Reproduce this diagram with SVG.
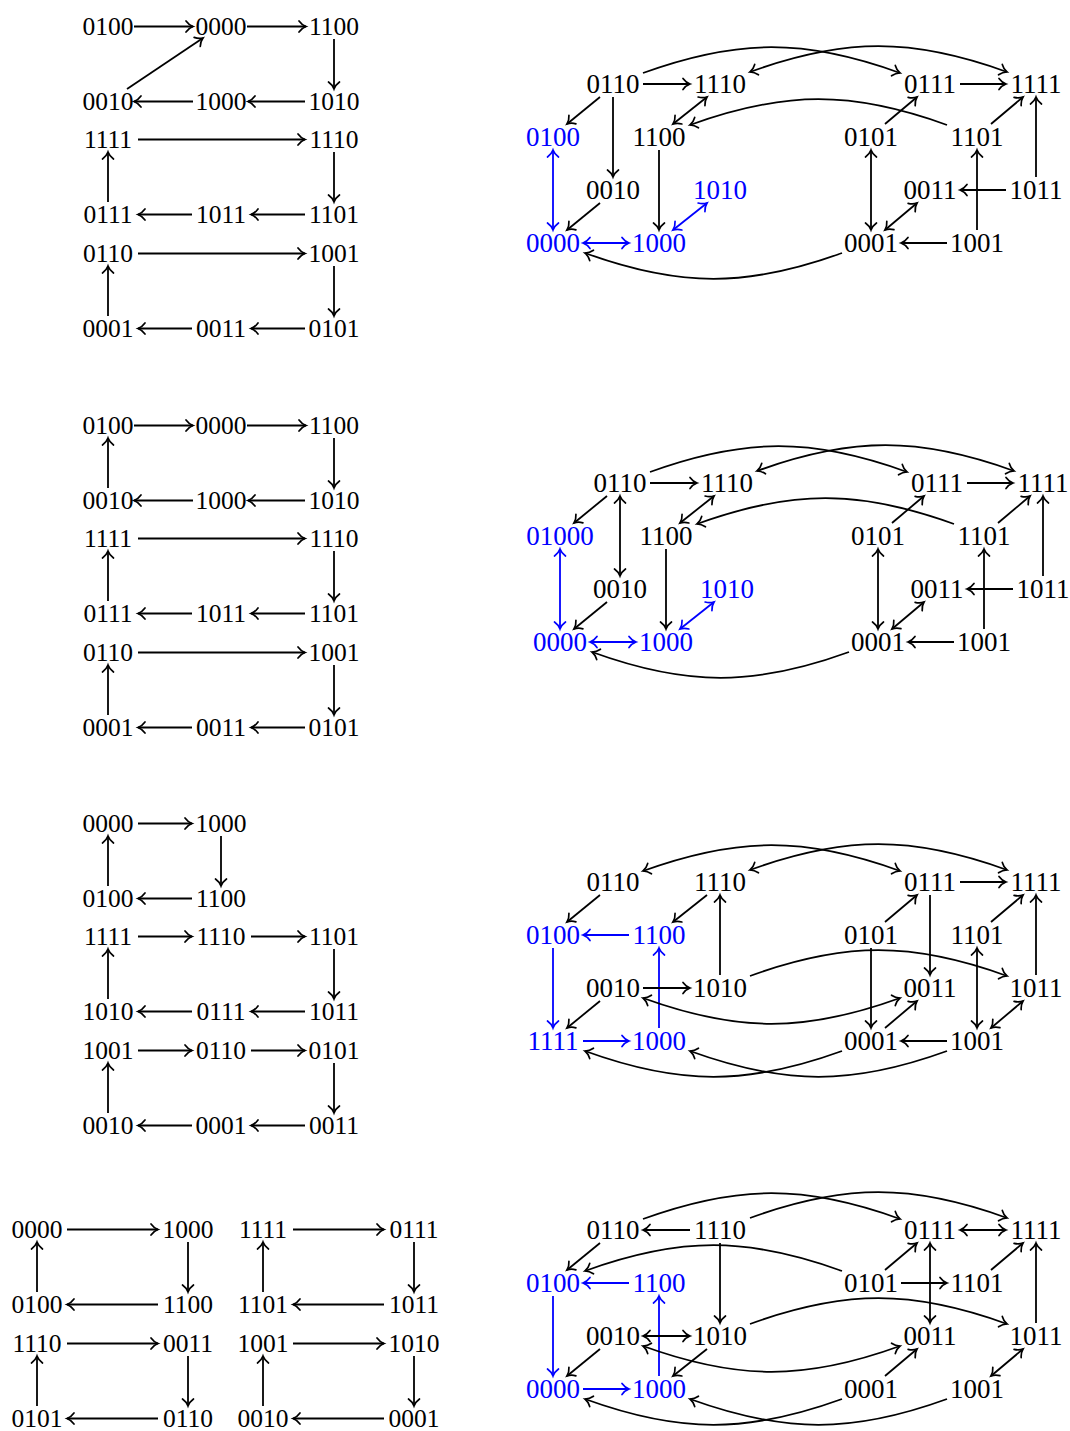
<svg xmlns="http://www.w3.org/2000/svg" width="1070" height="1431" viewBox="0 0 1070 1431">
<defs>
<style>
.t{font-family:"Liberation Serif","DejaVu Serif",serif;font-size:25.5px;text-anchor:middle;fill:#000}
.r{font-size:27px}
.b{fill:#0000ff}
.e{fill:none;stroke:#000;stroke-width:1.8;marker-end:url(#h)}
.d{marker-start:url(#h)}
.eb{stroke:#0000ff;marker-end:url(#hb)}
.db{marker-start:url(#hb)}
</style>
<marker id="h" viewBox="-9 -7 10 14" refX="0" refY="0" markerWidth="10" markerHeight="14" markerUnits="userSpaceOnUse" orient="auto-start-reverse" overflow="visible">
<path d="M-7,-5.5 C-5,-2.7 -2.2,-0.8 0,0 C-2.2,0.8 -5,2.7 -7,5.5" fill="none" stroke="#000" stroke-width="1.7" stroke-linecap="round"/>
</marker>
<marker id="hb" viewBox="-9 -7 10 14" refX="0" refY="0" markerWidth="10" markerHeight="14" markerUnits="userSpaceOnUse" orient="auto-start-reverse" overflow="visible">
<path d="M-7,-5.5 C-5,-2.7 -2.2,-0.8 0,0 C-2.2,0.8 -5,2.7 -7,5.5" fill="none" stroke="#0000ff" stroke-width="1.7" stroke-linecap="round"/>
</marker>
</defs>
<rect width="1070" height="1431" fill="#fff"/>

<!-- ===== Panel 1 left ===== -->
<g id="p1L-nodes" class="t">
<g id="p1L-0100"><text x="108" y="35">0100</text></g>
<g id="p1L-0000"><text x="221" y="35">0000</text></g>
<g id="p1L-1100"><text x="334" y="35">1100</text></g>
<g id="p1L-0010"><text x="108" y="110">0010</text></g>
<g id="p1L-1000"><text x="221" y="110">1000</text></g>
<g id="p1L-1010"><text x="334" y="110">1010</text></g>
<g id="p1L-1111"><text x="108" y="148">1111</text></g>
<g id="p1L-1110"><text x="334" y="148">1110</text></g>
<g id="p1L-0111"><text x="108" y="223">0111</text></g>
<g id="p1L-1011"><text x="221" y="223">1011</text></g>
<g id="p1L-1101"><text x="334" y="223">1101</text></g>
<g id="p1L-0110"><text x="108" y="262">0110</text></g>
<g id="p1L-1001"><text x="334" y="262">1001</text></g>
<g id="p1L-0001"><text x="108" y="337">0001</text></g>
<g id="p1L-0011"><text x="221" y="337">0011</text></g>
<g id="p1L-0101"><text x="334" y="337">0101</text></g>
</g>
<g id="p1L-edges">
<path class="e" d="M134,26.5 L193,26.5"/>
<path class="e" d="M247,26.5 L306,26.5"/>
<path class="e" d="M334,39 L334,89"/>
<path class="e" d="M305,101.5 L248,101.5"/>
<path class="e" d="M193,101.5 L134,101.5"/>
<path class="e" d="M127,89 L203,38"/>
<path class="e" d="M138,139.5 L305,139.5"/>
<path class="e" d="M334,152 L334,202"/>
<path class="e" d="M305,214.5 L251,214.5"/>
<path class="e" d="M192,214.5 L138,214.5"/>
<path class="e" d="M108,202 L108,152"/>
<path class="e" d="M138,253.5 L305,253.5"/>
<path class="e" d="M334,266 L334,316"/>
<path class="e" d="M305,328.5 L251,328.5"/>
<path class="e" d="M192,328.5 L138,328.5"/>
<path class="e" d="M108,316 L108,266"/>
</g>

<!-- ===== Panel 2 left ===== -->
<g id="p2L-nodes" class="t">
<g id="p2L-0100"><text x="108" y="434">0100</text></g>
<g id="p2L-0000"><text x="221" y="434">0000</text></g>
<g id="p2L-1100"><text x="334" y="434">1100</text></g>
<g id="p2L-0010"><text x="108" y="509">0010</text></g>
<g id="p2L-1000"><text x="221" y="509">1000</text></g>
<g id="p2L-1010"><text x="334" y="509">1010</text></g>
<g id="p2L-1111"><text x="108" y="547">1111</text></g>
<g id="p2L-1110"><text x="334" y="547">1110</text></g>
<g id="p2L-0111"><text x="108" y="622">0111</text></g>
<g id="p2L-1011"><text x="221" y="622">1011</text></g>
<g id="p2L-1101"><text x="334" y="622">1101</text></g>
<g id="p2L-0110"><text x="108" y="661">0110</text></g>
<g id="p2L-1001"><text x="334" y="661">1001</text></g>
<g id="p2L-0001"><text x="108" y="736">0001</text></g>
<g id="p2L-0011"><text x="221" y="736">0011</text></g>
<g id="p2L-0101"><text x="334" y="736">0101</text></g>
</g>
<g id="p2L-edges">
<path class="e" d="M134,425.5 L193,425.5"/>
<path class="e" d="M247,425.5 L306,425.5"/>
<path class="e" d="M334,438 L334,488"/>
<path class="e" d="M305,500.5 L248,500.5"/>
<path class="e" d="M193,500.5 L134,500.5"/>
<path class="e" d="M108,488 L108,438"/>
<path class="e" d="M138,538.5 L305,538.5"/>
<path class="e" d="M334,551 L334,601"/>
<path class="e" d="M305,613.5 L251,613.5"/>
<path class="e" d="M192,613.5 L138,613.5"/>
<path class="e" d="M108,601 L108,551"/>
<path class="e" d="M138,652.5 L305,652.5"/>
<path class="e" d="M334,665 L334,715"/>
<path class="e" d="M305,727.5 L251,727.5"/>
<path class="e" d="M192,727.5 L138,727.5"/>
<path class="e" d="M108,715 L108,665"/>
</g>

<!-- ===== Panel 3 left ===== -->
<g id="p3L-nodes" class="t">
<g id="p3L-0000"><text x="108" y="832">0000</text></g>
<g id="p3L-1000"><text x="221" y="832">1000</text></g>
<g id="p3L-0100"><text x="108" y="907">0100</text></g>
<g id="p3L-1100"><text x="221" y="907">1100</text></g>
<g id="p3L-1111"><text x="108" y="945">1111</text></g>
<g id="p3L-1110"><text x="221" y="945">1110</text></g>
<g id="p3L-1101"><text x="334" y="945">1101</text></g>
<g id="p3L-1010"><text x="108" y="1020">1010</text></g>
<g id="p3L-0111"><text x="221" y="1020">0111</text></g>
<g id="p3L-1011"><text x="334" y="1020">1011</text></g>
<g id="p3L-1001"><text x="108" y="1059">1001</text></g>
<g id="p3L-0110"><text x="221" y="1059">0110</text></g>
<g id="p3L-0101"><text x="334" y="1059">0101</text></g>
<g id="p3L-0010"><text x="108" y="1134">0010</text></g>
<g id="p3L-0001"><text x="221" y="1134">0001</text></g>
<g id="p3L-0011"><text x="334" y="1134">0011</text></g>
</g>
<g id="p3L-edges">
<path class="e" d="M138,823.5 L192,823.5"/>
<path class="e" d="M221,836 L221,886"/>
<path class="e" d="M192,898.5 L138,898.5"/>
<path class="e" d="M108,886 L108,836"/>
<path class="e" d="M138,936.5 L192,936.5"/>
<path class="e" d="M251,936.5 L305,936.5"/>
<path class="e" d="M334,949 L334,999"/>
<path class="e" d="M305,1011.5 L251,1011.5"/>
<path class="e" d="M192,1011.5 L138,1011.5"/>
<path class="e" d="M108,999 L108,949"/>
<path class="e" d="M138,1050.5 L192,1050.5"/>
<path class="e" d="M251,1050.5 L305,1050.5"/>
<path class="e" d="M334,1063 L334,1113"/>
<path class="e" d="M305,1125.5 L251,1125.5"/>
<path class="e" d="M192,1125.5 L138,1125.5"/>
<path class="e" d="M108,1113 L108,1063"/>
</g>

<!-- ===== Panel 4 left ===== -->
<g id="p4L-nodes" class="t">
<g id="p4L-0000"><text x="37" y="1238">0000</text></g>
<g id="p4L-1000"><text x="188" y="1238">1000</text></g>
<g id="p4L-1111"><text x="263" y="1238">1111</text></g>
<g id="p4L-0111"><text x="414" y="1238">0111</text></g>
<g id="p4L-0100"><text x="37" y="1313">0100</text></g>
<g id="p4L-1100"><text x="188" y="1313">1100</text></g>
<g id="p4L-1101"><text x="263" y="1313">1101</text></g>
<g id="p4L-1011"><text x="414" y="1313">1011</text></g>
<g id="p4L-1110"><text x="37" y="1352">1110</text></g>
<g id="p4L-0011"><text x="188" y="1352">0011</text></g>
<g id="p4L-1001"><text x="263" y="1352">1001</text></g>
<g id="p4L-1010"><text x="414" y="1352">1010</text></g>
<g id="p4L-0101"><text x="37" y="1427">0101</text></g>
<g id="p4L-0110"><text x="188" y="1427">0110</text></g>
<g id="p4L-0010"><text x="263" y="1427">0010</text></g>
<g id="p4L-0001"><text x="414" y="1427">0001</text></g>
</g>
<g id="p4L-edges">
<path class="e" d="M67,1229.5 L158,1229.5"/>
<path class="e" d="M188,1242 L188,1292"/>
<path class="e" d="M158,1304.5 L67,1304.5"/>
<path class="e" d="M37,1292 L37,1242"/>
<path class="e" d="M293,1229.5 L384,1229.5"/>
<path class="e" d="M414,1242 L414,1292"/>
<path class="e" d="M384,1304.5 L293,1304.5"/>
<path class="e" d="M263,1292 L263,1242"/>
<path class="e" d="M67,1343.5 L158,1343.5"/>
<path class="e" d="M188,1356 L188,1406"/>
<path class="e" d="M158,1418.5 L67,1418.5"/>
<path class="e" d="M37,1406 L37,1356"/>
<path class="e" d="M293,1343.5 L384,1343.5"/>
<path class="e" d="M414,1356 L414,1406"/>
<path class="e" d="M384,1418.5 L293,1418.5"/>
<path class="e" d="M263,1406 L263,1356"/>
</g>

<!-- ===== Panel 1 right ===== -->
<g id="p1R-nodes" class="t r">
<g id="p1R-0110"><text x="613" y="93">0110</text></g>
<g id="p1R-1110"><text x="720" y="93">1110</text></g>
<g id="p1R-0100"><text class="b" x="553" y="146">0100</text></g>
<g id="p1R-1100"><text x="659" y="146">1100</text></g>
<g id="p1R-0010"><text x="613" y="199">0010</text></g>
<g id="p1R-1010"><text class="b" x="720" y="199">1010</text></g>
<g id="p1R-0000"><text class="b" x="553" y="252">0000</text></g>
<g id="p1R-1000"><text class="b" x="659" y="252">1000</text></g>
<g id="p1R-0111"><text x="930" y="93">0111</text></g>
<g id="p1R-1111"><text x="1036" y="93">1111</text></g>
<g id="p1R-0101"><text x="871" y="146">0101</text></g>
<g id="p1R-1101"><text x="977" y="146">1101</text></g>
<g id="p1R-0011"><text x="930" y="199">0011</text></g>
<g id="p1R-1011"><text x="1036" y="199">1011</text></g>
<g id="p1R-0001"><text x="871" y="252">0001</text></g>
<g id="p1R-1001"><text x="977" y="252">1001</text></g>
</g>
<g id="p1R-edges">
<path class="e" d="M643,84 L690,84"/>
<path class="e" d="M600,97 L567,124"/>
<path class="e" d="M613,97 L613,177"/>
<path class="e d" d="M707,97 L673,124"/>
<path class="e" d="M659,150 L659,230"/>
<path class="e eb db" d="M553,150 L553,230"/>
<path class="e" d="M600,203 L567,230"/>
<path class="e eb db" d="M583,243 L629,243"/>
<path class="e eb db" d="M707,203 L673,230"/>
<path class="e" d="M960,84 L1006,84"/>
<path class="e" d="M885,124 L917,97"/>
<path class="e" d="M991,124 L1023,97"/>
<path class="e" d="M1036,177 L1036,97"/>
<path class="e d" d="M871,150 L871,230"/>
<path class="e" d="M977,230 L977,150"/>
<path class="e" d="M1006,190 L960,190"/>
<path class="e d" d="M917,203 L885,230"/>
<path class="e" d="M947,243 L901,243"/>
<path class="e" d="M643,73 C737.6,38.6 805.4,38.6 900,73"/>
<path class="e d" d="M750,72 C844.6,37.6 912.4,37.6 1007,72"/>
<path class="e" d="M947,125 C852.4,90.6 784.6,90.6 690,125"/>
<path class="e" d="M842,253 C747.4,287.4 679.6,287.4 585,253"/>
</g>

<!-- ===== Panel 2 right ===== -->
<g id="p2R-nodes" class="t r">
<g id="p2R-0110"><text x="620" y="492">0110</text></g>
<g id="p2R-1110"><text x="727" y="492">1110</text></g>
<g id="p2R-01000"><text class="b" x="560" y="545">01000</text></g>
<g id="p2R-1100"><text x="666" y="545">1100</text></g>
<g id="p2R-0010"><text x="620" y="598">0010</text></g>
<g id="p2R-1010"><text class="b" x="727" y="598">1010</text></g>
<g id="p2R-0000"><text class="b" x="560" y="651">0000</text></g>
<g id="p2R-1000"><text class="b" x="666" y="651">1000</text></g>
<g id="p2R-0111"><text x="937" y="492">0111</text></g>
<g id="p2R-1111"><text x="1043" y="492">1111</text></g>
<g id="p2R-0101"><text x="878" y="545">0101</text></g>
<g id="p2R-1101"><text x="984" y="545">1101</text></g>
<g id="p2R-0011"><text x="937" y="598">0011</text></g>
<g id="p2R-1011"><text x="1043" y="598">1011</text></g>
<g id="p2R-0001"><text x="878" y="651">0001</text></g>
<g id="p2R-1001"><text x="984" y="651">1001</text></g>
</g>
<g id="p2R-edges">
<path class="e" d="M650,483 L697,483"/>
<path class="e" d="M607,496 L574,523"/>
<path class="e d" d="M620,496 L620,576"/>
<path class="e d" d="M714,496 L680,523"/>
<path class="e" d="M666,549 L666,629"/>
<path class="e eb db" d="M560,549 L560,629"/>
<path class="e" d="M607,602 L574,629"/>
<path class="e eb db" d="M590,642 L636,642"/>
<path class="e eb db" d="M714,602 L680,629"/>
<path class="e" d="M967,483 L1013,483"/>
<path class="e" d="M892,523 L924,496"/>
<path class="e" d="M998,523 L1030,496"/>
<path class="e" d="M1043,576 L1043,496"/>
<path class="e d" d="M878,549 L878,629"/>
<path class="e" d="M984,629 L984,549"/>
<path class="e" d="M1013,589 L967,589"/>
<path class="e d" d="M924,602 L892,629"/>
<path class="e" d="M954,642 L908,642"/>
<path class="e" d="M650,472 C744.6,437.6 812.4,437.6 907,472"/>
<path class="e d" d="M757,471 C851.6,436.6 919.4,436.6 1014,471"/>
<path class="e" d="M954,524 C859.4,489.6 791.6,489.6 697,524"/>
<path class="e" d="M849,652 C754.4,686.4 686.6,686.4 592,652"/>
</g>

<!-- ===== Panel 3 right ===== -->
<g id="p3R-nodes" class="t r">
<g id="p3R-0110"><text x="613" y="891">0110</text></g>
<g id="p3R-1110"><text x="720" y="891">1110</text></g>
<g id="p3R-0100"><text class="b" x="553" y="944">0100</text></g>
<g id="p3R-1100"><text class="b" x="659" y="944">1100</text></g>
<g id="p3R-0010"><text x="613" y="997">0010</text></g>
<g id="p3R-1010"><text x="720" y="997">1010</text></g>
<g id="p3R-1111a"><text class="b" x="553" y="1050">1111</text></g>
<g id="p3R-1000"><text class="b" x="659" y="1050">1000</text></g>
<g id="p3R-0111"><text x="930" y="891">0111</text></g>
<g id="p3R-1111"><text x="1036" y="891">1111</text></g>
<g id="p3R-0101"><text x="871" y="944">0101</text></g>
<g id="p3R-1101"><text x="977" y="944">1101</text></g>
<g id="p3R-0011"><text x="930" y="997">0011</text></g>
<g id="p3R-1011"><text x="1036" y="997">1011</text></g>
<g id="p3R-0001"><text x="871" y="1050">0001</text></g>
<g id="p3R-1001"><text x="977" y="1050">1001</text></g>
</g>
<g id="p3R-edges">
<path class="e" d="M600,895 L567,922"/>
<path class="e" d="M707,895 L673,922"/>
<path class="e eb" d="M629,935 L583,935"/>
<path class="e eb" d="M553,948 L553,1028"/>
<path class="e eb" d="M659,1028 L659,948"/>
<path class="e eb" d="M583,1041 L629,1041"/>
<path class="e" d="M643,988 L690,988"/>
<path class="e" d="M720,975 L720,895"/>
<path class="e" d="M600,1001 L567,1028"/>
<path class="e" d="M960,882 L1006,882"/>
<path class="e" d="M885,922 L917,895"/>
<path class="e" d="M991,922 L1023,895"/>
<path class="e" d="M1036,975 L1036,895"/>
<path class="e" d="M930,895 L930,975"/>
<path class="e" d="M871,948 L871,1028"/>
<path class="e d" d="M977,948 L977,1028"/>
<path class="e" d="M885,1028 L917,1001"/>
<path class="e d" d="M991,1028 L1023,1001"/>
<path class="e" d="M947,1041 L901,1041"/>
<path class="e d" d="M643,871 C737.6,836.6 805.4,836.6 900,871"/>
<path class="e d" d="M750,870 C844.6,835.6 912.4,835.6 1007,870"/>
<path class="e" d="M750,976 C844.6,941.6 912.4,941.6 1007,976"/>
<path class="e d" d="M643,998 C737.6,1032.4 805.4,1032.4 900,998"/>
<path class="e" d="M842,1051 C747.4,1085.4 679.6,1085.4 585,1051"/>
<path class="e" d="M947,1051 C852.4,1085.4 784.6,1085.4 690,1051"/>
</g>

<!-- ===== Panel 4 right ===== -->
<g id="p4R-nodes" class="t r">
<g id="p4R-0110"><text x="613" y="1239">0110</text></g>
<g id="p4R-1110"><text x="720" y="1239">1110</text></g>
<g id="p4R-0100"><text class="b" x="553" y="1292">0100</text></g>
<g id="p4R-1100"><text class="b" x="659" y="1292">1100</text></g>
<g id="p4R-0010"><text x="613" y="1345">0010</text></g>
<g id="p4R-1010"><text x="720" y="1345">1010</text></g>
<g id="p4R-0000"><text class="b" x="553" y="1398">0000</text></g>
<g id="p4R-1000"><text class="b" x="659" y="1398">1000</text></g>
<g id="p4R-0111"><text x="930" y="1239">0111</text></g>
<g id="p4R-1111"><text x="1036" y="1239">1111</text></g>
<g id="p4R-0101"><text x="871" y="1292">0101</text></g>
<g id="p4R-1101"><text x="977" y="1292">1101</text></g>
<g id="p4R-0011"><text x="930" y="1345">0011</text></g>
<g id="p4R-1011"><text x="1036" y="1345">1011</text></g>
<g id="p4R-0001"><text x="871" y="1398">0001</text></g>
<g id="p4R-1001"><text x="977" y="1398">1001</text></g>
</g>
<g id="p4R-edges">
<path class="e" d="M690,1230 L643,1230"/>
<path class="e" d="M600,1243 L567,1270"/>
<path class="e" d="M720,1243 L720,1323"/>
<path class="e eb" d="M629,1283 L583,1283"/>
<path class="e eb" d="M553,1296 L553,1376"/>
<path class="e eb" d="M659,1376 L659,1296"/>
<path class="e eb" d="M583,1389 L629,1389"/>
<path class="e d" d="M643,1336 L690,1336"/>
<path class="e" d="M600,1349 L567,1376"/>
<path class="e" d="M707,1349 L673,1376"/>
<path class="e d" d="M960,1230 L1006,1230"/>
<path class="e" d="M885,1270 L917,1243"/>
<path class="e" d="M991,1270 L1023,1243"/>
<path class="e" d="M1036,1323 L1036,1243"/>
<path class="e" d="M901,1283 L947,1283"/>
<path class="e d" d="M930,1243 L930,1323"/>
<path class="e" d="M885,1376 L917,1349"/>
<path class="e d" d="M991,1376 L1023,1349"/>
<path class="e" d="M643,1219 C737.6,1184.6 805.4,1184.6 900,1219"/>
<path class="e" d="M750,1218 C844.6,1183.6 912.4,1183.6 1007,1218"/>
<path class="e" d="M842,1271 C747.4,1236.6 679.6,1236.6 585,1271"/>
<path class="e" d="M750,1324 C844.6,1289.6 912.4,1289.6 1007,1324"/>
<path class="e d" d="M643,1346 C737.6,1380.4 805.4,1380.4 900,1346"/>
<path class="e" d="M842,1399 C747.4,1433.4 679.6,1433.4 585,1399"/>
<path class="e" d="M947,1399 C852.4,1433.4 784.6,1433.4 690,1399"/>
</g>
</svg>
